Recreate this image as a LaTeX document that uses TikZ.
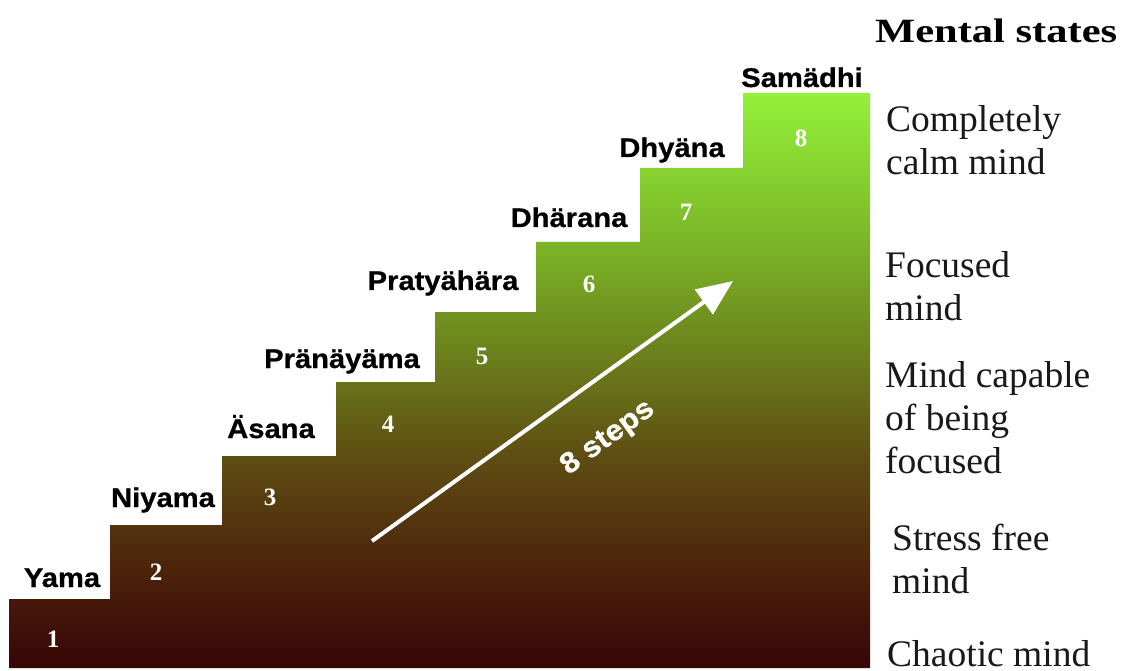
\documentclass[tikz,border=0pt]{standalone}
\usepackage{fontspec}
\setmainfont{Liberation Serif}
\newfontfamily\lblfont[FakeStretch=1.08,FakeBold=0.7]{Liberation Sans}
\newfontfamily\ttlfont[FakeStretch=1.25]{Liberation Serif}
\usetikzlibrary{arrows.meta}
\definecolor{sA}{RGB}{55,4,6}
\definecolor{sB}{RGB}{78,38,12}
\definecolor{sC}{RGB}{95,80,18}
\definecolor{sD}{RGB}{108,130,28}
\definecolor{sE}{RGB}{122,178,38}
\definecolor{sF}{RGB}{148,242,58}
\tikzset{
  steplabel/.style={anchor=base, inner sep=0pt, text=black, font=\lblfont\bfseries\fontsize{27}{30}\selectfont},
  stepnum/.style={anchor=base, inner sep=0pt, text=white, font=\bfseries\fontsize{25}{28}\selectfont},
  statetext/.style={anchor=base west, inner sep=0pt, text=black!90, font=\fontsize{37.5}{43}\selectfont},
  titletext/.style={anchor=base west, inner sep=0pt, text=black, font=\ttlfont\bfseries\fontsize{34}{40}\selectfont},
  bigarrow/.style={draw=white, line width=4pt, -{Triangle[length=36pt,width=30pt]}},
  arrowtext/.style={inner sep=0pt, text=white, font=\lblfont\bfseries\fontsize{29}{32}\selectfont},
}
\begin{document}
\begin{tikzpicture}[x=1pt,y=-1pt]
\useasboundingbox (0,0) rectangle (1125,671);
\fill[white] (0,0) rectangle (1125,671);
% staircase with gradient
\begin{scope}
\clip (9,668) -- (9,599) -- (110,599) -- (110,525) -- (222,525) -- (222,456)
  -- (336,456) -- (336,382) -- (435,382) -- (435,312) -- (536,312) -- (536,242)
  -- (640,242) -- (640,168) -- (743,168) -- (743,93) -- (870,93) -- (870,668) -- cycle;
\shade[top color=sB, bottom color=sA] (0,559.5) rectangle (900,670);
\shade[top color=sC, bottom color=sB] (0,449.5) rectangle (900,560);
\shade[top color=sD, bottom color=sC] (0,349.5) rectangle (900,450);
\shade[top color=sE, bottom color=sD] (0,249.5) rectangle (900,350);
\shade[top color=sF, bottom color=sE] (0,90) rectangle (900,250);
\end{scope}
% step labels
\node[steplabel] (yama) at (62,587) {Yama};
\node[steplabel] (niyama) at (163,507) {Niyama};
\node[steplabel] (asana) at (271,438) {Äsana};
\node[steplabel] (prana) at (342,368) {Pränäyäma};
\node[steplabel] (pratya) at (443,290) {Pratyähära};
\node[steplabel] (dhara) at (569,227) {Dhärana};
\node[steplabel] (dhya) at (672,157) {Dhyäna};
\node[steplabel] (sama) at (802,87) {Samädhi};
% step numbers
\node[stepnum] (n1) at (53,647) {1};
\node[stepnum] (n2) at (156,580) {2};
\node[stepnum] (n3) at (270,505) {3};
\node[stepnum] (n4) at (388,432) {4};
\node[stepnum] (n5) at (482,364) {5};
\node[stepnum] (n6) at (589,293) {6};
\node[stepnum] (n7) at (686,221) {7};
\node[stepnum] (n8) at (801,147) {8};
% arrow
\coordinate (arrS) at (372,541);
\coordinate (arrE) at (733,281);
\draw[bigarrow] (arrS) -- (arrE);
\node[arrowtext, rotate=35.8] (steps) at (608,438) {8 steps};
% mental states
\node[titletext] (title) at (875,43) {Mental states};
\node[statetext] (s8a) at (886,132) {Completely};
\node[statetext] (s8b) at (886,175) {calm mind};
\node[statetext] (s6a) at (885,277) {Focused};
\node[statetext] (s6b) at (885,320) {mind};
\node[statetext] (s4a) at (885,387) {Mind capable};
\node[statetext] (s4b) at (885,430) {of being};
\node[statetext] (s4c) at (885,473) {focused};
\node[statetext] (s2a) at (892,550) {Stress free};
\node[statetext] (s2b) at (892,593) {mind};
\node[statetext] (s1) at (887,666) {Chaotic mind};
\end{tikzpicture}
\end{document}
